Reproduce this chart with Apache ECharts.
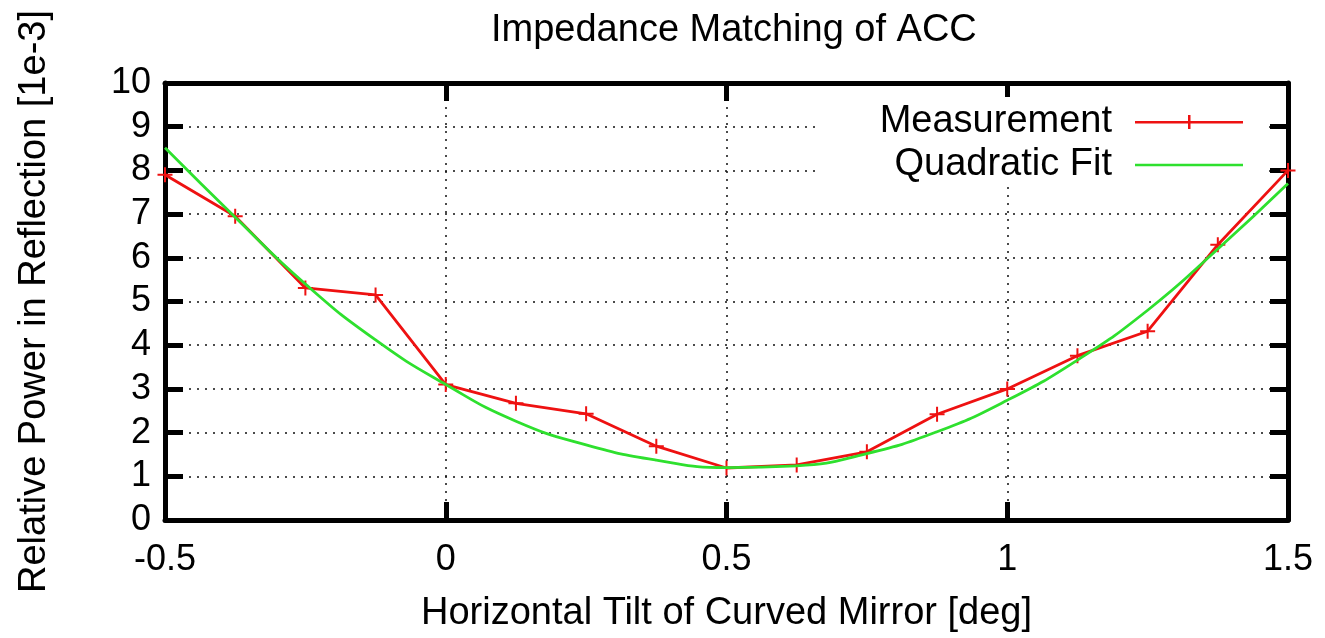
<!DOCTYPE html>
<html>
<head>
<meta charset="utf-8">
<script src="https://cdn.jsdelivr.net/npm/echarts@6/dist/echarts.min.js"></script>
<style>
  html, body { margin: 0; padding: 0; background: #fff; }
  #chart { width: 1325px; height: 638px; }
</style>
</head>
<body>
<div id="chart"></div>
<script>
// Data
const tiltDeg = [-0.5, -0.375, -0.25, -0.125, 0, 0.125, 0.25, 0.375, 0.5, 0.625, 0.75, 0.875, 1, 1.125, 1.25, 1.375, 1.5];
const measurement = [7.9, 6.95, 5.31, 5.15, 3.1, 2.67, 2.43, 1.69, 1.19, 1.26, 1.56, 2.42, 3.0, 3.76, 4.32, 6.3, 8.0];
const quadraticFit = [8.52, 6.93, 5.4, 4.12, 3.1, 2.26, 1.72, 1.37, 1.2, 1.24, 1.52, 2.02, 2.74, 3.66, 4.8, 6.2, 7.7];
const xTicks = [-0.5, 0, 0.5, 1, 1.5];
const yTicks = [0, 1, 2, 3, 4, 5, 6, 7, 8, 9, 10];

const titleText = 'Impedance Matching of ACC';
const xName = 'Horizontal Tilt of Curved Mirror [deg]';
const yName = 'Relative Power in Reflection [1e-3]';
const seriesNames = ['Measurement', 'Quadratic Fit'];

const FONT = '"Liberation Sans", Arial, Helvetica, sans-serif';
const FS = 38;      // title, names, legend
const FS_TICK = 36; // tick labels
const RED = '#ee1111';
const GREEN = '#2ee02e';
const plusPath = 'path://M0,6.5H15V8.5H0Z M6.5,0H8.5V15H6.5Z';
const legendLinePlus = 'path://M0,6H108V8.5H0Z M53,0H55.5V14H53Z';
const legendLine = 'path://M0,6H108V8.5H0Z';

const chart = echarts.init(document.getElementById('chart'));

function axisLine(onZero) {
  return { show: true, onZero: onZero, lineStyle: { color: '#000', width: 5 } };
}
function ticks() {
  return { show: true, inside: true, length: 18, lineStyle: { color: '#000', width: 5 } };
}
function gridLines() {
  return { show: true, lineStyle: { color: '#111', width: 1.5, type: [2, 6] } };
}
const fmt = v => String(v);

const option = {
  animation: false,
  backgroundColor: '#fff',
  title: {
    text: titleText,
    left: 486,
    top: 7,
    textStyle: { fontFamily: FONT, fontSize: FS, fontWeight: 'normal', color: '#000' }
  },
  grid: { left: 165, right: 37, top: 83, bottom: 114 },
  legend: {
    data: [
      { name: seriesNames[0], icon: legendLinePlus, itemStyle: { color: RED } },
      { name: seriesNames[1], icon: legendLine, itemStyle: { color: GREEN } }
    ],
    orient: 'vertical',
    align: 'right',
    right: 60,
    top: 97,
    padding: [6, 22, 2, 60],
    backgroundColor: '#fff',
    itemWidth: 108,
    itemHeight: 14,
    itemGap: 5,
    selectedMode: false,
    textStyle: { fontFamily: FONT, fontSize: FS, color: '#000', lineHeight: 36, padding: [0, 18, 0, 0] }
  },
  xAxis: [
    {
      type: 'value', min: xTicks[0], max: xTicks[xTicks.length - 1], interval: 0.5,
      position: 'bottom',
      name: xName, nameLocation: 'middle', nameGap: 75,
      nameTextStyle: { fontFamily: FONT, fontSize: FS, color: '#000' },
      axisLine: axisLine(true), axisTick: ticks(),
      axisLabel: { margin: 22, fontFamily: FONT, fontSize: FS_TICK, color: '#000', formatter: fmt },
      splitLine: gridLines()
    },
    {
      type: 'value', min: xTicks[0], max: xTicks[xTicks.length - 1], interval: 0.5,
      position: 'top',
      axisLine: axisLine(false), axisTick: ticks(),
      axisLabel: { show: false }, splitLine: { show: false }
    }
  ],
  yAxis: [
    {
      type: 'value', min: yTicks[0], max: yTicks[yTicks.length - 1], interval: 1,
      position: 'left',
      name: yName, nameLocation: 'middle', nameGap: 111,
      nameTextStyle: { fontFamily: FONT, fontSize: FS, color: '#000' },
      axisLine: axisLine(false), axisTick: ticks(),
      axisLabel: { margin: 14, fontFamily: FONT, fontSize: FS_TICK, color: '#000', formatter: fmt },
      splitLine: gridLines()
    },
    {
      type: 'value', min: yTicks[0], max: yTicks[yTicks.length - 1], interval: 1,
      position: 'right',
      axisLine: axisLine(false), axisTick: ticks(),
      axisLabel: { show: false }, splitLine: { show: false }
    }
  ],
  series: [
    {
      name: seriesNames[0],
      type: 'line',
      xAxisIndex: 0, yAxisIndex: 0,
      data: tiltDeg.map((x, i) => [x, measurement[i]]),
      symbol: plusPath,
      symbolSize: 15,
      showAllSymbol: true,
      clip: false,
      lineStyle: { color: RED, width: 2.8 },
      itemStyle: { color: RED },
      z: 3
    },
    {
      name: seriesNames[1],
      type: 'line',
      xAxisIndex: 0, yAxisIndex: 0,
      data: tiltDeg.map((x, i) => [x, quadraticFit[i]]),
      smooth: true,
      showSymbol: false,
      symbol: 'none',
      lineStyle: { color: GREEN, width: 2.8 },
      itemStyle: { color: GREEN },
      z: 4
    }
  ]
};

chart.setOption(option);
</script>
</body>
</html>
